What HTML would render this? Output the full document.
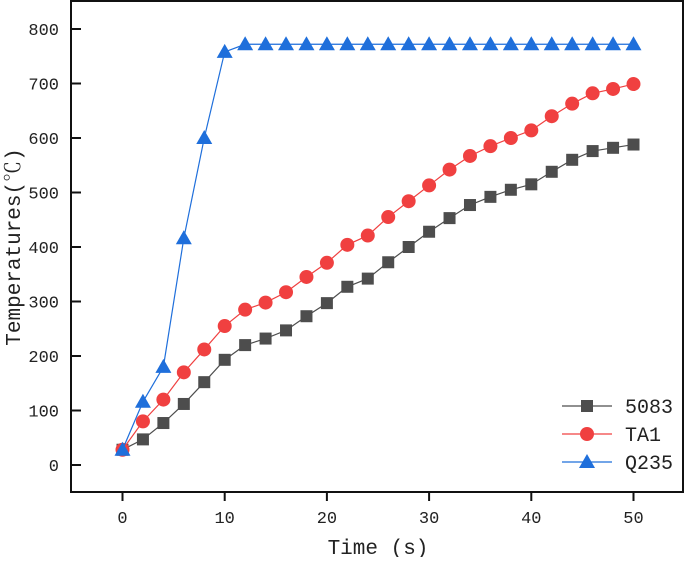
<!DOCTYPE html>
<html><head><meta charset="utf-8"><style>
html,body{margin:0;padding:0;background:#fff;}
svg text{font-family:"Liberation Mono","Noto Serif CJK SC",monospace;fill:#222;}
</style></head><body>
<svg id="chart" width="685" height="557" viewBox="0 0 685 557" xmlns="http://www.w3.org/2000/svg">
</svg>
<script>
const xCats=[0,2,4,6,8,10,12,14,16,18,20,22,24,26,28,30,32,34,36,38,40,42,44,46,48,50];
const s5083=[28,47,77,112,152,193,220,232,247,273,297,327,342,372,400,428,453,477,492,505,515,538,560,576,582,588];
const sTA1=[28,80,120,170,212,255,285,298,317,345,371,404,421,455,484,513,542,567,585,600,614,640,663,682,690,699];
const sQ235=[28,116,180,416,600,758,772,772,772,772,772,772,772,772,772,772,772,772,772,772,772,772,772,772,772,772];
const xTicks=[0,10,20,30,40,50];
const yTicks=[0,100,200,300,400,500,600,700,800];
const seriesNames=["5083","TA1","Q235"];

const NS="http://www.w3.org/2000/svg";
const svg=document.getElementById('chart');
const X=v=>122.5+v*10.22;
const Y=v=>465-v*0.545;
function mk(tag,attrs,parent){const e=document.createElementNS(NS,tag);for(const k in attrs)e.setAttribute(k,attrs[k]);(parent||svg).appendChild(e);return e;}

const box=mk('rect',{x:71,y:1,width:612,height:491,fill:'none',stroke:'#111','stroke-width':2});



xTicks.forEach(t=>{
  const l=mk('line',{x1:X(t),x2:X(t),y1:492,y2:501,stroke:'#111','stroke-width':2});
  
  
  const tx=mk('text',{x:X(t),y:523,'text-anchor':'middle','font-size':17});
  tx.textContent=t;
  
  
});
yTicks.forEach(t=>{
  const l=mk('line',{x1:71,x2:81,y1:Y(t),y2:Y(t),stroke:'#111','stroke-width':2});
  
  
  const tx=mk('text',{x:59,y:Y(t)+6,'text-anchor':'end','font-size':17});
  tx.textContent=t;
  
  
});
const xt=mk('text',{x:378,y:554,'text-anchor':'middle','font-size':21});
xt.textContent='Time (s)';


const yt=mk('text',{x:0,y:0,'text-anchor':'middle','font-size':21,transform:'translate(20,247) rotate(-90)'});
yt.textContent='Temperatures(℃)';



function marker(type,cx,cy,color,parent){
  if(type==='sq') return mk('rect',{x:cx-6,y:cy-6,width:12,height:12,fill:color},parent);
  if(type==='ci') return mk('circle',{cx:cx,cy:cy,r:7,fill:color},parent);
  return mk('polygon',{points:`${cx},${cy-8} ${cx+8},${cy+6} ${cx-8},${cy+6}`,fill:color},parent);
}
const defs=[[s5083,'#4d4d4d','sq'],[sTA1,'#f04040','ci'],[sQ235,'#1f6fdb','tr']];
defs.forEach((d,i)=>{
  const g=mk('g',{});
  
  
  const p=mk('polyline',{points:xCats.map((x,j)=>X(x)+','+Y(d[0][j])).join(' '),fill:'none',stroke:d[1],'stroke-width':1.2},g);
  
  
  xCats.forEach((x,j)=>{
    const m=marker(d[2],X(x),Y(d[0][j]),d[1],g);
    
    
  });
  const ly=406+i*28;
  const lg=mk('g',{});
  
  
  mk('line',{x1:562,x2:612,y1:ly,y2:ly,stroke:d[1],'stroke-width':1.2},lg);
  marker(d[2],587,ly,d[1],lg);
  const t=mk('text',{x:625,y:ly+7,'font-size':20},lg);
  t.textContent=seriesNames[i];
});
</script>
</body></html>
